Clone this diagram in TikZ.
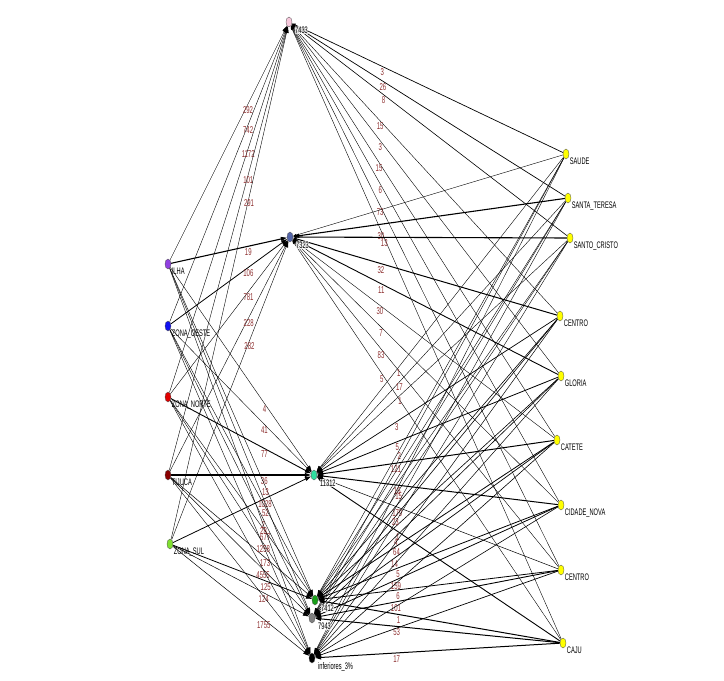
\documentclass[tikz,border=0pt]{standalone}
\usepackage{fontspec}
\setmainfont{Liberation Sans}
\newfontfamily\narrowfont[FakeStretch=0.6]{Liberation Sans}
\usetikzlibrary{arrows.meta,shapes.geometric}
\definecolor{numred}{HTML}{8E3030}
\definecolor{cpink}{HTML}{F7C8DC}
\definecolor{cslate}{HTML}{5566AA}
\definecolor{cteal}{HTML}{30E0A0}
\definecolor{cgreen}{HTML}{18A018}
\definecolor{cgray}{HTML}{808080}
\definecolor{cpurple}{HTML}{9040E0}
\definecolor{cblue}{HTML}{1010F0}
\definecolor{cred}{HTML}{E00000}
\definecolor{cdred}{HTML}{8A0000}
\definecolor{cygreen}{HTML}{80E030}
\definecolor{cyellow}{HTML}{FFFF00}
\pgfdeclarelayer{bg}
\pgfsetlayers{bg,main}
\begin{document}
\begin{tikzpicture}[x=1pt,y=-1pt,
  vtx/.style={shape=ellipse,minimum width=6pt,minimum height=10pt,inner sep=0pt,draw=black!70,line width=0.3pt},
  nm/.style={font=\narrowfont\fontsize{9.5}{10}\selectfont,inner sep=1pt,text=black},
  mnm/.style={nm,xshift=3pt,yshift=-1.5pt,inner sep=0.3pt,fill=white,fill opacity=0.75,text opacity=1},
  el/.style={font=\narrowfont\fontsize{10}{10}\selectfont,anchor=north,inner sep=0pt,text=numred,pos=0.667,yshift=-2pt},
  eb/.style={draw=black,-{Triangle[length=6pt,width=4pt]}},
  es/.style={draw=black,-{Triangle[length=3.5pt,width=2.5pt]}}
]
\useasboundingbox (0,0) rectangle (724,681);
% middle nodes
\node[vtx,fill=cpink,label={[mnm]-45:7433}] (m1) at (289,22) {};
\node[vtx,fill=cslate,label={[mnm]-45:7323}] (m2) at (290,237) {};
\node[vtx,fill=cteal,label={[mnm]-45:11312}] (m3) at (314,475) {};
\node[vtx,fill=cgreen,label={[mnm]-45:7412}] (m4) at (315,600) {};
\node[vtx,fill=cgray,label={[mnm]-45:7943}] (m5) at (312,618) {};
\node[vtx,fill=black,label={[mnm]-45:inferiores\_3\%}] (m6) at (312,658) {};
% left nodes
\node[vtx,fill=cpurple,label={[nm]-45:ILHA}] (l1) at (168,264) {};
\node[vtx,fill=cblue,label={[nm]-45:ZONA\_OESTE}] (l2) at (168,326) {};
\node[vtx,fill=cred,label={[nm]-45:ZONA\_NORTE}] (l3) at (168,397) {};
\node[vtx,fill=cdred,label={[nm]-45:TIJUCA}] (l4) at (168,475) {};
\node[vtx,fill=cygreen,label={[nm]-45:ZONA\_SUL}] (l5) at (170,544) {};
% right nodes
\node[vtx,fill=cyellow,label={[nm]-45:SAUDE}] (r1) at (566,154) {};
\node[vtx,fill=cyellow,label={[nm]-45:SANTA\_TERESA}] (r2) at (568,198) {};
\node[vtx,fill=cyellow,label={[nm]-45:SANTO\_CRISTO}] (r3) at (570,238) {};
\node[vtx,fill=cyellow,label={[nm]-45:CENTRO}] (r4) at (560,316) {};
\node[vtx,fill=cyellow,label={[nm]-45:GLORIA}] (r5) at (561,376) {};
\node[vtx,fill=cyellow,label={[nm]-45:CATETE}] (r6) at (557,440) {};
\node[vtx,fill=cyellow,label={[nm]-45:CIDADE\_NOVA}] (r7) at (561,505) {};
\node[vtx,fill=cyellow,label={[nm]-45:CENTRO}] (r8) at (561,570) {};
\node[vtx,fill=cyellow,label={[nm]-45:CAJU}] (r9) at (563,643) {};
\begin{pgfonlayer}{bg}
\foreach \s/\t/\w/\lab/\st in {
  l1/m1/0.4/292/eb, l2/m1/0.4/742/eb, l3/m1/0.4/1172/eb, l4/m1/0.4/101/eb, l5/m1/0.4/291/eb,
  l1/m2/1.1/19/eb, l2/m2/0.8/106/eb, l3/m2/0.4/781/eb, l4/m2/0.4/228/eb, l5/m2/0.4/282/eb,
  l1/m3/0.4/4/eb, l2/m3/0.4/41/eb, l3/m3/0.9/77/eb, l4/m3/1.1/36/eb, l5/m3/0.8/1028/eb,
  l1/m4/0.4/13/eb, l2/m4/0.4/52/eb, l3/m4/0.4/677/eb, l4/m4/0.5/173/eb, l5/m4/0.8/125/eb,
  l1/m5/0.4/{}/eb, l2/m5/0.4/2/eb, l3/m5/0.4/1258/eb, l4/m5/0.5/4555/eb, l5/m5/0.5/124/eb,
  l1/m6/0.4/28/eb, l2/m6/0.4/{}/eb, l3/m6/0.4/{}/eb, l4/m6/0.4/{}/eb, l5/m6/0.5/1755/eb,
  r1/m1/0.7/3/es, r2/m1/0.7/26/es, r3/m1/0.6/8/es, r4/m1/0.4/15/es, r5/m1/0.4/3/es, r6/m1/0.4/15/es, r7/m1/0.4/6/es, r8/m1/0.4/73/es, r9/m1/0.4/30/es,
  r1/m2/0.4/{}/es, r2/m2/1.1/{}/eb, r3/m2/1.1/13/es, r4/m2/1.0/32/es, r5/m2/0.9/11/es, r6/m2/0.4/30/es, r7/m2/0.4/7/es, r8/m2/0.4/83/es, r9/m2/0.4/5/es,
  r1/m3/0.4/1/eb, r2/m3/0.4/17/eb, r3/m3/0.4/1/eb, r4/m3/0.7/3/eb, r5/m3/0.8/5/eb, r6/m3/1.0/121/eb, r7/m3/1.0/16/eb, r8/m3/0.5/179/eb, r9/m3/0.9/1/eb,
  r1/m4/0.4/2/eb, r2/m4/0.4/{}/eb, r3/m4/0.4/{}/eb, r4/m4/0.6/{}/eb, r5/m4/0.6/{}/eb, r6/m4/0.8/64/eb, r7/m4/0.8/5/eb, r8/m4/0.8/6/eb, r9/m4/1.0/1/eb,
  r1/m5/0.4/{}/eb, r2/m5/0.4/{}/eb, r3/m5/0.4/15/eb, r4/m5/0.6/23/eb, r5/m5/0.6/4/eb, r6/m5/0.7/14/eb, r7/m5/0.8/159/eb, r8/m5/0.9/101/eb, r9/m5/1.0/53/eb,
  r1/m6/0.4/{}/eb, r2/m6/0.4/{}/eb, r3/m6/0.4/{}/eb, r4/m6/0.5/{}/eb, r5/m6/0.5/{}/eb, r6/m6/0.6/{}/eb, r7/m6/0.6/{}/eb, r8/m6/0.7/{}/eb, r9/m6/1.0/17/eb}
{
  \draw[style=\st,line width=\w pt] (\s) -- node[el]{\lab} (\t);
}
\end{pgfonlayer}
\end{tikzpicture}
\end{document}
